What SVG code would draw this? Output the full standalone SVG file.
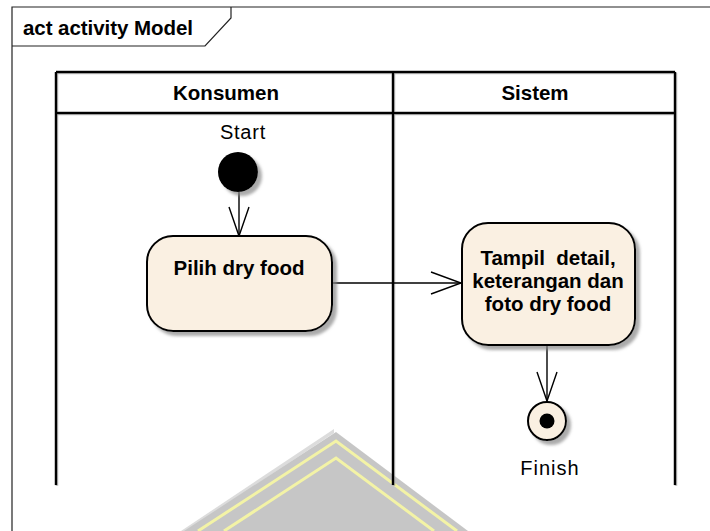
<svg xmlns="http://www.w3.org/2000/svg" width="710" height="531" viewBox="0 0 710 531">
  <defs>
    <style>
      .frame { fill: none; stroke: #222; stroke-width: 1.2; }
      .lane { fill: none; stroke: #000; stroke-width: 2.5; }
      .title { font-family: "Liberation Sans", Arial, sans-serif; font-weight: bold; font-size: 20.5px; fill: #000; }
      .label { font-family: "Liberation Sans", Arial, sans-serif; font-size: 20px; fill: #000; }
      .action { fill: #FAF0E2; stroke: #000; stroke-width: 2; }
      .edge { fill: none; stroke: #000; stroke-width: 1.4; }
      .head { fill: none; stroke: #000; stroke-width: 1.4; stroke-linejoin: miter; }
    </style>
    <filter id="shadow" x="-20%" y="-20%" width="150%" height="150%">
      <feDropShadow dx="4" dy="4" stdDeviation="1.5" flood-color="#888" flood-opacity="0.7"/>
    </filter>
    <filter id="laneShade" x="-5%" y="-5%" width="110%" height="110%">
      <feDropShadow dx="0.8" dy="0.8" stdDeviation="0.6" flood-color="#999" flood-opacity="0.8"/>
    </filter>
  </defs>

  <rect width="710" height="531" fill="#fff"/>

  <!-- watermark emblem at the bottom -->
  <g id="emblem">
    <polygon points="334,429 181,531 186,531 334,433" fill="#dcdcdc"/>
    <polygon points="336,432 468,531 184,531" fill="#c6c6c6"/>
    <polyline points="198,531 336,441 457,531" fill="none" stroke="#f3f3a6" stroke-width="3"/>
    <polyline points="224,531 336,458 434,531" fill="none" stroke="#f3f3a6" stroke-width="3"/>
  </g>

  <!-- diagram frame with its name tab -->
  <g id="frame">
    <polyline class="frame" points="12,531 12,7 710,7"/>
    <polyline class="frame" points="12,46 205,46 231,18 231,7"/>
    <text class="title" x="23" y="35" textLength="170" lengthAdjust="spacing">act activity Model</text>
  </g>

  <!-- swimlanes -->
  <g id="lanes" filter="url(#laneShade)">
    <line class="lane" x1="56" y1="72" x2="675" y2="72"/>
    <line class="lane" x1="56" y1="113" x2="675" y2="113"/>
    <line class="lane" x1="56" y1="72" x2="56" y2="485"/>
    <line class="lane" x1="393" y1="72" x2="393" y2="485"/>
    <line class="lane" x1="675" y1="72" x2="675" y2="485"/>
  </g>
  <g id="lane-konsumen">
    <text class="title" x="226" y="100" text-anchor="middle">Konsumen</text>
  </g>
  <g id="lane-sistem">
    <text class="title" x="535" y="100" text-anchor="middle">Sistem</text>
  </g>

  <!-- connectors -->
  <g id="connectors">
    <line class="edge" x1="239" y1="192" x2="239" y2="236"/>
    <polyline class="head" points="229,207 239,236 249,207"/>
    <line class="edge" x1="332" y1="283" x2="461" y2="283"/>
    <polyline class="head" points="431,272 461,283 431,294"/>
    <line class="edge" x1="547" y1="345" x2="547" y2="401"/>
    <polyline class="head" points="537,372 547,401 557,372"/>
  </g>

  <!-- start node -->
  <g id="start">
    <text class="label" x="243" y="139" text-anchor="middle" letter-spacing="0.8">Start</text>
    <circle cx="238" cy="172" r="20" fill="#000" filter="url(#shadow)"/>
  </g>

  <!-- action: Pilih dry food -->
  <g id="pilih-dry-food">
    <rect class="action" x="147" y="236" width="185" height="95" rx="26" ry="26" filter="url(#shadow)"/>
    <text class="title" x="239" y="275" text-anchor="middle">Pilih dry food</text>
  </g>

  <!-- action: Tampil detail -->
  <g id="tampil-detail">
    <rect class="action" x="462" y="223" width="173" height="122" rx="26" ry="26" filter="url(#shadow)"/>
    <text class="title" x="548" y="265" text-anchor="middle" xml:space="preserve">Tampil  detail,</text>
    <text class="title" x="548" y="288" text-anchor="middle">keterangan dan</text>
    <text class="title" x="548" y="311" text-anchor="middle">foto dry food</text>
  </g>

  <!-- final node -->
  <g id="finish">
    <circle cx="547" cy="421" r="19" fill="#FAF0E2" stroke="#000" stroke-width="2" filter="url(#shadow)"/>
    <circle cx="547" cy="421" r="7.5" fill="#000"/>
    <text class="label" x="550" y="475" text-anchor="middle" letter-spacing="1">Finish</text>
  </g>
</svg>
